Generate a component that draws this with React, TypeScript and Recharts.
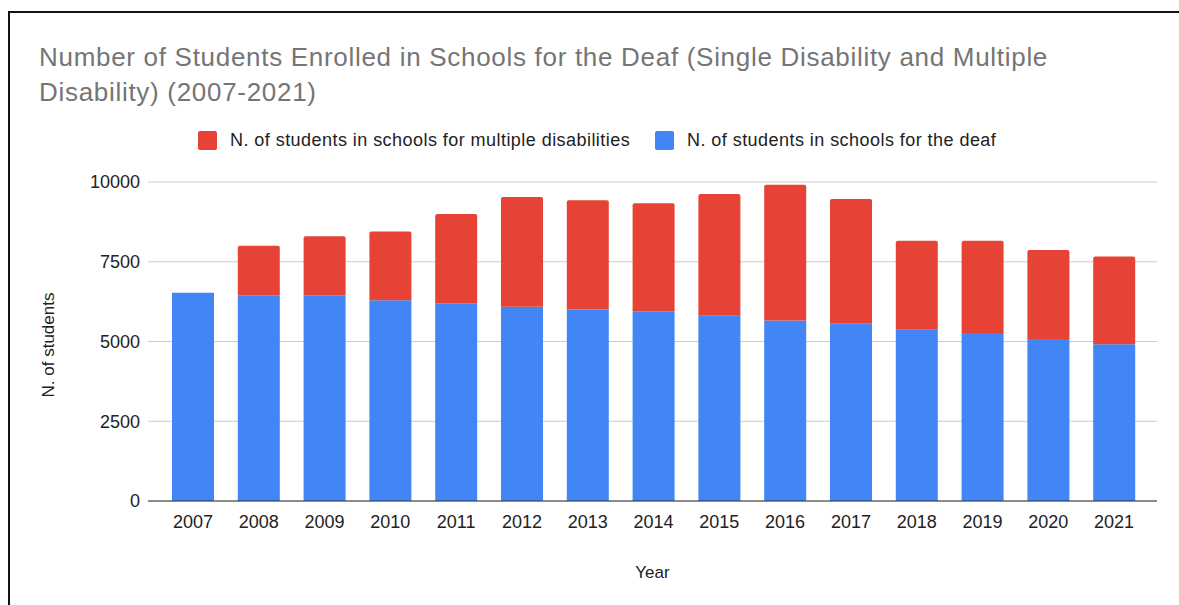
import React from 'react';
import { BarChart, Bar, XAxis, YAxis, CartesianGrid } from 'recharts';

const years = ['2007', '2008', '2009', '2010', '2011', '2012', '2013', '2014', '2015', '2016', '2017', '2018', '2019', '2020', '2021'];
const deafSchools = [6530, 6450, 6450, 6290, 6200, 6090, 6000, 5950, 5810, 5655, 5560, 5365, 5270, 5075, 4915];
const multipleSchools = [0, 1550, 1850, 2160, 2800, 3440, 3430, 3380, 3815, 4260, 3910, 2790, 2885, 2790, 2750];
const yTicks = [0, 2500, 5000, 7500, 10000];

const deafName = 'N. of students in schools for the deaf';
const multipleName = 'N. of students in schools for multiple disabilities';

const FONT = '"Liberation Sans", Arial, sans-serif';
const BLUE = '#4285F4';
const RED = '#E64336';

const App = () => {
    const dataChart: any = [];
    years.forEach((y, i) => {
        dataChart.push({ year: y, deaf: deafSchools[i], multiple: multipleSchools[i] });
    });

    const legendItems = [
        { name: multipleName, color: RED, left: 198 },
        { name: deafName, color: BLUE, left: 655 },
    ];

    return (
        <div style={{ position: 'absolute', left: 0, top: 0, width: 1179, height: 605, background: '#fff', fontFamily: FONT, overflow: 'hidden' }}>
            {/* frame */}
            <div style={{ position: 'absolute', left: 8, top: 11, width: 1171, height: 2, background: '#111' }} />
            <div style={{ position: 'absolute', left: 8, top: 11, width: 2, height: 594, background: '#111' }} />

            <div style={{ position: 'absolute', left: 39, top: 40, fontSize: 26, letterSpacing: 0.7, lineHeight: '35px', color: '#757575', whiteSpace: 'nowrap' }}>
                Number of Students Enrolled in Schools for the Deaf (Single Disability and Multiple
                <br />
                Disability) (2007-2021)
            </div>

            {legendItems.map((it) => (
                <div key={it.name} style={{ position: 'absolute', left: it.left, top: 131, height: 19, display: 'flex', alignItems: 'center', whiteSpace: 'nowrap' }}>
                    <div style={{ width: 19, height: 19, background: it.color, borderRadius: 2 }} />
                    <span style={{ marginLeft: 13, fontSize: 18, letterSpacing: 0.45, color: '#222' }}>{it.name}</span>
                </div>
            ))}

            <div style={{ position: 'absolute', left: 0, top: 0 }}>
                <BarChart
                    width={1179}
                    height={605}
                    data={dataChart}
                    margin={{ top: 182, right: 22, left: 78, bottom: 64 }}
                >
                    <CartesianGrid vertical={false} stroke="#cccccc" strokeWidth={1} />
                    <XAxis
                        dataKey="year"
                        height={40}
                        padding={{ left: 12, right: 10 }}
                        tickLine={false}
                        tickMargin={8}
                        stroke="#333"
                        tick={{ fill: '#222', fontSize: 18, fontFamily: FONT }}
                        label={{
                            content: ({ viewBox }: any) => (
                                <text x={viewBox.x + viewBox.width / 2} y={578} textAnchor="middle" fill="#222" fontSize={17} fontFamily={FONT}>
                                    Year
                                </text>
                            ),
                        }}
                    />
                    <YAxis
                        width={70}
                        domain={[0, 10000]}
                        ticks={yTicks}
                        axisLine={false}
                        tickLine={false}
                        tick={{ fill: '#222', fontSize: 18, fontFamily: FONT }}
                        label={{
                            content: () => (
                                <text x={54} y={345} transform="rotate(-90 54 345)" textAnchor="middle" fill="#222" fontSize={17} fontFamily={FONT}>
                                    N. of students
                                </text>
                            ),
                        }}
                    />
                    <Bar dataKey="deaf" name={deafName} stackId="a" fill={BLUE} barSize={42} isAnimationActive={false} />
                    <Bar dataKey="multiple" name={multipleName} stackId="a" fill={RED} barSize={42} radius={[2, 2, 0, 0]} isAnimationActive={false} />
                </BarChart>
            </div>
        </div>
    );
};

export default App;
